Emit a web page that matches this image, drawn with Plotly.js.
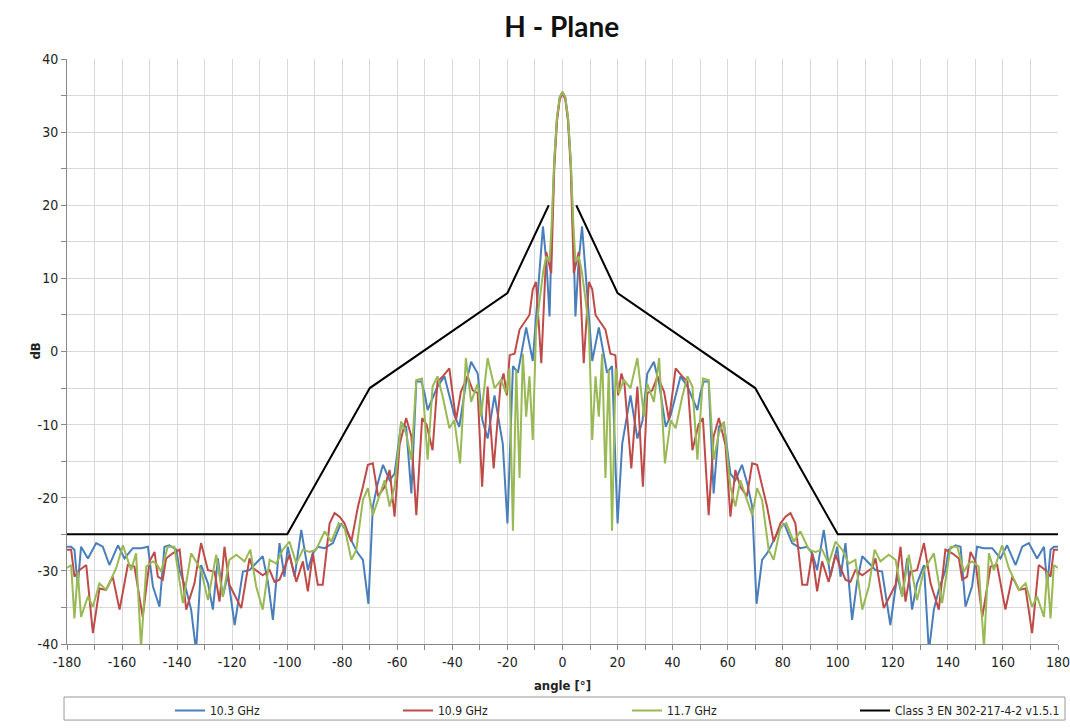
<!DOCTYPE html>
<html>
<head>
<meta charset="utf-8">
<script src="https://cdn.plot.ly/plotly-3.0.1.min.js"></script>
<style>html,body{margin:0;padding:0;background:#fff;}#chart{width:1070px;height:728px;}</style>
</head>
<body>
<div id="chart"></div>
<script>
// Right-half (0..180°) readings; the measured pattern is symmetric about 0°.
const angle103 = [0,1,2,3,4,4.7,5.8,7.1,8.6,10.8,13.2,16.2,18,20,21.7,24.7,27.2,29.1,30.8,33.2,35.1,37.5,39.3,42.9,45.4,49,50.1,51.3,53.1,54.9,56.8,58.6,61,62.8,65.2,67.1,68.9,70.5,72.5,74.5,76.5,78.5,80.5,83.4,86.4,88.9,90.7,92.5,94.9,97.3,99.8,101,102.8,105.2,107,108.9,112.5,113.7,116.1,119.1,121.6,123.4,125.2,127,128.8,131.3,133.1,134.9,136.7,139.1,140.3,142.8,144.6,146.4,148.8,150.6,153.1,156.1,159.1,161.5,164.6,167,169.4,172.4,174.9,176.1,177.3,178.5,180];
const db103 = [35.5,34.8,32,26,15,4.8,12,17.1,9.8,-1.3,3.3,-2.9,-2,-23.5,-12.6,-6,-11.9,-9.4,-3,-1.4,-4.4,-10.3,-8.7,-3.4,-4.8,-8,-5.7,-4.1,-4.1,-19.4,-10.3,-9.8,-16.7,-17.6,-15.5,-18,-21.2,-34.5,-28.5,-27.5,-26,-24.5,-23.5,-26.2,-26.9,-26.7,-27.6,-29.9,-24.4,-30.8,-26.7,-30.8,-26.2,-36.7,-31.5,-28,-29.4,-29.9,-30.1,-37.4,-30.6,-33.5,-28.3,-35.3,-31.7,-29.2,-41,-35.3,-32.6,-29.9,-27.1,-26.5,-26.7,-34.9,-32.1,-26.7,-26.9,-26.9,-28.3,-26.5,-29.2,-26.7,-26.2,-28.3,-26.7,-32.1,-27.1,-26.7,-26.7];

const angle109 = [0,1,2,3,4.1,5.9,7.7,9.6,10.8,12,13.2,15.6,17.4,19.2,20.2,21.4,22.5,25,27.2,29.2,30.8,32.6,34.5,36.9,38.7,41.1,43.5,45.4,47.2,49.4,51,53.1,54.9,56.8,59.2,61,62.8,64.6,67,68.9,70.7,72.5,74.3,76.7,79.2,81,82.8,84.6,87.1,88.9,90.7,92.5,94.3,96.7,99.2,101,102.8,104.6,106.4,108.9,112.5,113.7,116.7,119.1,121,122.8,124.6,126.4,128.8,131.3,133.7,136.7,139.1,141.6,144,145.2,147,148.2,150,152.5,155.5,157.9,160.9,163.4,165.8,168.2,170.6,173,175.5,177.3,178.5,180];
const db109 = [35.3,34.5,31.5,25,10.7,13.6,-1.6,9.5,8.5,5,4.3,3,-0.3,-0.5,-6,-3,-4.4,-16,-4.8,-18.5,-5.7,-5.3,-3.4,-5.5,-9.4,-2.3,-3.4,-4.1,-13.5,-10,-9.1,-22.4,-11.6,-9.1,-12.8,-22.6,-16.2,-18.5,-19.8,-15.3,-15.5,-18.5,-21.2,-26,-23.5,-22.6,-22.1,-23.5,-31.9,-31.9,-27.6,-32.8,-28.7,-31.5,-27.8,-29.6,-31.2,-31.5,-29.9,-30.6,-29.6,-28.3,-35.1,-33.3,-31.9,-26.7,-34.2,-30.1,-29.9,-26.2,-31.7,-35.3,-27.1,-27.6,-28.3,-31.2,-30.8,-27.4,-28.7,-36.3,-29.4,-29.2,-35.3,-30.8,-32.6,-32.4,-38.5,-29.2,-29.9,-30.8,-27.1,-27.1];

const angle117 = [0,1,2,3,4,4.7,5.9,7,8.4,9.6,10.8,12,13.2,14.4,15.6,16.8,18,19.3,20.5,22.3,24.7,27.2,29.6,30.8,33.2,35.1,37.2,39.3,41.1,43.5,45.4,47.2,49,51,53.1,54.9,56.8,58.6,61,62.8,64.6,67,68.9,70.7,72.5,74.9,76.7,79.2,81.3,84,86.4,89.5,91.9,94.3,96.7,99.2,101.6,104,106.4,108.9,111.3,113.4,115.5,118.5,121,123.4,125.8,128.8,131.3,134.9,137.9,141,143.4,145.8,147.6,148.8,151.2,153.1,154.9,156.7,159.7,162.1,165.8,168.2,170.6,172.4,174.9,176.1,177.3,178.5,180];
const db117 = [35.5,34.8,32,26,17,12.3,13,11,7,3,-12.1,-3.4,-8.9,-0.3,-17.3,-2.5,-24.5,-2.3,-5.7,-3.9,-5,-0.9,-8.9,-4.4,-6.9,-0.9,-15.3,-9.4,-10.5,-6.2,-3.4,-4.8,-14.8,-3.7,-3.9,-14.8,-11.2,-9.6,-18.5,-21.2,-17.6,-20.3,-22.4,-18.7,-20.3,-27.1,-28.5,-24,-23.5,-26,-24.6,-27.1,-27.4,-27.1,-29,-26,-27.1,-29,-28.5,-35.3,-32.1,-27.1,-28.7,-27.8,-28.5,-33.5,-27.8,-34,-29.9,-27.6,-34.4,-26.7,-26.7,-30.1,-29,-28.7,-29.4,-40.5,-27.6,-29.9,-26.5,-29.6,-32.6,-31.7,-34.9,-33.5,-36.3,-30.1,-36.5,-29.2,-29.6];

// Class 3 EN 302-217-4-2 v1.5.1 mask (gap between -5° and 5°)
const maskAngle = [-180,-100,-70,-20,-5,null,5,20,70,100,180];
const maskDb    = [-25,-25,-5,8,20,null,20,8,-5,-25,-25];

// Tick labels as printed (ASCII hyphen-minus)
const xTickVals = [-180,-160,-140,-120,-100,-80,-60,-40,-20,0,20,40,60,80,100,120,140,160,180];
const xTickText = ['-180','-160','-140','-120','-100','-80','-60','-40','-20','0','20','40','60','80','100','120','140','160','180'];
const yTickVals = [-40,-30,-20,-10,0,10,20,30,40];
const yTickText = ['-40','-30','-20','-10','0','10','20','30','40'];

const seriesNames = ['10.3 GHz','10.9 GHz','11.7 GHz','Class 3 EN 302-217-4-2 v1.5.1'];
const seriesColors = ['#4A7EBB','#BE4B48','#98B954','#000000'];

function mirrorX(a){ const l=a.slice(1).map(v=>-v).reverse(); return l.concat(a); }
function mirrorY(d){ return d.slice(1).reverse().concat(d); }

const legendIds = ['legend','legend2','legend3','legend4'];
const halves = [[angle103,db103],[angle109,db109],[angle117,db117]];
const traces = halves.map((h,i)=>({
  x: mirrorX(h[0]), y: mirrorY(h[1]), type:'scatter', mode:'lines', name: seriesNames[i],
  line:{color: seriesColors[i], width:2}, legend: legendIds[i]
}));
traces.push({x: maskAngle, y: maskDb, type:'scatter', mode:'lines', name: seriesNames[3],
  line:{color: seriesColors[3], width:2}, connectgaps:false, legend: legendIds[3]});

const F = '"DejaVu Sans Condensed", "DejaVu Sans", sans-serif';
const FT = 'Lato, "Open Sans", sans-serif';
function leg(xp){
  return {orientation:'h', x:xp, xanchor:'left', y:-0.0889, yanchor:'top',
    font:{family:F, size:12, color:'#222'}, bgcolor:'rgba(0,0,0,0)', borderwidth:0, itemwidth:30};
}
const legX = [170,398,627,855].map(px => (px-67)/991);

const layout = {
  width:1070, height:728,
  margin:{l:67, r:12, t:59, b:84, autoexpand:false},
  paper_bgcolor:'#fff', plot_bgcolor:'#fff',
  font:{family:F, size:14, color:'#222'},
  title:{text:'<b>H - Plane</b>', x:0.525, xanchor:'center', y:0.963, yanchor:'middle', font:{family:FT, size:28, color:'#111'}},
  xaxis:{range:[-180,180], tickmode:'array', tickvals:xTickVals, ticktext:xTickText,
    showgrid:true, gridcolor:'#D9D9D9', gridwidth:1,
    minor:{tickmode:'linear', tick0:0, dtick:10, showgrid:true, gridcolor:'#D9D9D9', ticks:'outside', ticklen:5, tickcolor:'#888'},
    ticks:'outside', ticklen:5, tickcolor:'#888', showline:true, linecolor:'#888', zeroline:false,
    ticklabeloverflow:'allow', tickfont:{size:14}, title:{text:'<b>angle [°]</b>', font:{size:13}, standoff:12}},
  yaxis:{range:[-40,40], tickmode:'array', tickvals:yTickVals, ticktext:yTickText,
    showgrid:true, gridcolor:'#D9D9D9', gridwidth:1,
    minor:{tickmode:'linear', tick0:0, dtick:5, showgrid:true, gridcolor:'#D9D9D9', ticks:'outside', ticklen:5, tickcolor:'#888'},
    ticks:'outside', ticklen:5, tickcolor:'#888', showline:true, linecolor:'#888', zeroline:false,
    ticklabeloverflow:'allow', tickfont:{size:14}},
  annotations:[{text:'<b>dB</b>', xref:'paper', yref:'paper', x:(35-67)/991, y:0.5, textangle:-90,
    showarrow:false, font:{family:F, size:13, color:'#222'}, xanchor:'center', yanchor:'middle'}],
  showlegend:true,
  legend: leg(legX[0]), legend2: leg(legX[1]), legend3: leg(legX[2]), legend4: leg(legX[3]),
  shapes:[{type:'rect', xref:'paper', yref:'paper', x0:-0.003, x1:(1065-67)/991, y0:-0.0906, y1:-0.130,
    line:{color:'#999', width:1}, fillcolor:'rgba(0,0,0,0)'}]
};
Plotly.newPlot('chart', traces, layout, {displayModeBar:false, staticPlot:true});
</script>
</body>
</html>
